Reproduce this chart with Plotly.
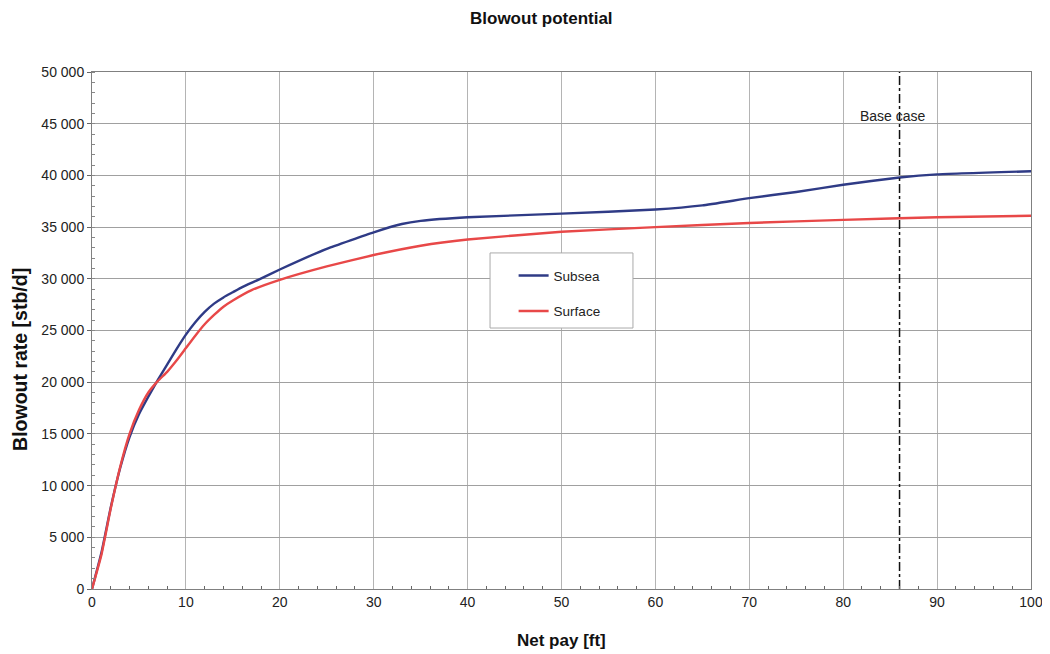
import plotly.graph_objects as go

# Data
subsea_x = [0, 1, 2, 3, 4, 5, 6, 7, 8, 9, 10, 11, 12, 13, 14, 15, 16, 17.7, 20, 25, 30, 33, 35, 40, 50, 60, 65, 70, 75, 80, 86, 90, 100]
subsea_y = [0, 3500, 7900, 11700, 14700, 16900, 18600, 20200, 21700, 23200, 24600, 25800, 26800, 27600, 28200, 28700, 29200, 29900, 30900, 32900, 34500, 35300, 35600, 35950, 36300, 36700, 37100, 37800, 38400, 39100, 39800, 40100, 40400]

surface_x = [0, 1, 2, 3, 4, 5, 6, 7, 8, 9, 10, 11, 12, 13, 14, 15, 17, 20, 25, 30, 35, 40, 50, 60, 70, 80, 90, 100]
surface_y = [0, 3300, 7800, 11800, 15000, 17300, 19000, 20100, 21000, 22100, 23300, 24500, 25600, 26500, 27300, 27900, 28900, 29900, 31200, 32300, 33200, 33800, 34550, 35000, 35400, 35700, 35950, 36100]

base_case_x = 86
base_case_label = "Base case"
y_range = [0, 50000]
x_range = [0, 100]

FONT = "Liberation Sans, Arial, sans-serif"
TXT = "#222222"

fig = go.Figure()
fig.add_trace(go.Scatter(x=subsea_x, y=subsea_y, mode="lines", name="Subsea", legendgroup="a",
                         line=dict(color="#2f3b86", width=2.4, shape="spline", smoothing=0.4)))
fig.add_trace(go.Scatter(x=surface_x, y=surface_y, mode="lines", name="Surface", legendgroup="b",
                         line=dict(color="#e84848", width=2.4, shape="spline", smoothing=0.4)))
fig.add_trace(go.Scatter(x=[base_case_x, base_case_x], y=y_range, mode="lines", showlegend=False,
                         line=dict(color="#111111", width=1.5, dash="dashdot"), hoverinfo="skip"))

fig.add_annotation(x=base_case_x, y=45750, text=base_case_label, showarrow=False,
                   xanchor="center", yanchor="middle", xshift=-7,
                   font=dict(family=FONT, size=14, color=TXT))

# titles
fig.add_annotation(xref="paper", yref="paper", x=0.479, y=1.104, text="<b>Blowout potential</b>",
                   showarrow=False, xanchor="center", yanchor="middle",
                   font=dict(family=FONT, size=17, color="#111111"))
fig.add_annotation(xref="paper", yref="paper", x=0.5005, y=-0.1, text="<b>Net pay [ft]</b>",
                   showarrow=False, xanchor="center", yanchor="middle",
                   font=dict(family=FONT, size=17, color="#111111"))
fig.add_annotation(xref="paper", yref="paper", x=-0.0767, y=0.445, text="<b>Blowout rate [stb/d]</b>",
                   showarrow=False, xanchor="center", yanchor="middle", textangle=-90,
                   font=dict(family=FONT, size=19.5, color="#111111"))

# legend frame
fig.add_shape(type="rect", xref="paper", yref="paper", x0=0.4239, x1=0.5761, y0=0.5048, y1=0.65,
              fillcolor="white", line=dict(color="#aaaaaa", width=1), layer="above")

fig.update_layout(
    width=1050, height=654,
    paper_bgcolor="white", plot_bgcolor="white",
    separators=". ",
    margin=dict(l=84, r=27, t=64, b=73),
    font=dict(family=FONT, size=14, color=TXT),
    legend=dict(x=0.449, y=0.636, xanchor="left", yanchor="top",
                bgcolor="rgba(0,0,0,0)", borderwidth=0,
                font=dict(family=FONT, size=13.5, color=TXT),
                itemwidth=30, tracegroupgap=15),
    showlegend=True,
)

fig.update_xaxes(
    range=x_range, dtick=10, tick0=0,
    showgrid=True, gridcolor="#b4b4b4", gridwidth=1,
    showline=True, linecolor="#808080", linewidth=1, mirror=True,
    ticks="", zeroline=False, automargin=False,
    minor=dict(dtick=2, ticks="inside", ticklen=3, tickcolor="#666666", showgrid=False),
    tickfont=dict(family=FONT, size=14, color=TXT),
)
fig.update_yaxes(
    range=y_range, dtick=5000, tick0=0, tickformat=",d",
    showgrid=True, gridcolor="#a0a0a0", gridwidth=1,
    showline=True, linecolor="#808080", linewidth=1, mirror=True,
    ticks="outside", ticklen=4, tickcolor="#666666", zeroline=False, automargin=False,
    minor=dict(dtick=1000, ticks="inside", ticklen=3, tickcolor="#888888", showgrid=False),
    tickfont=dict(family=FONT, size=14, color=TXT),
)

fig.write_html("out.html")
